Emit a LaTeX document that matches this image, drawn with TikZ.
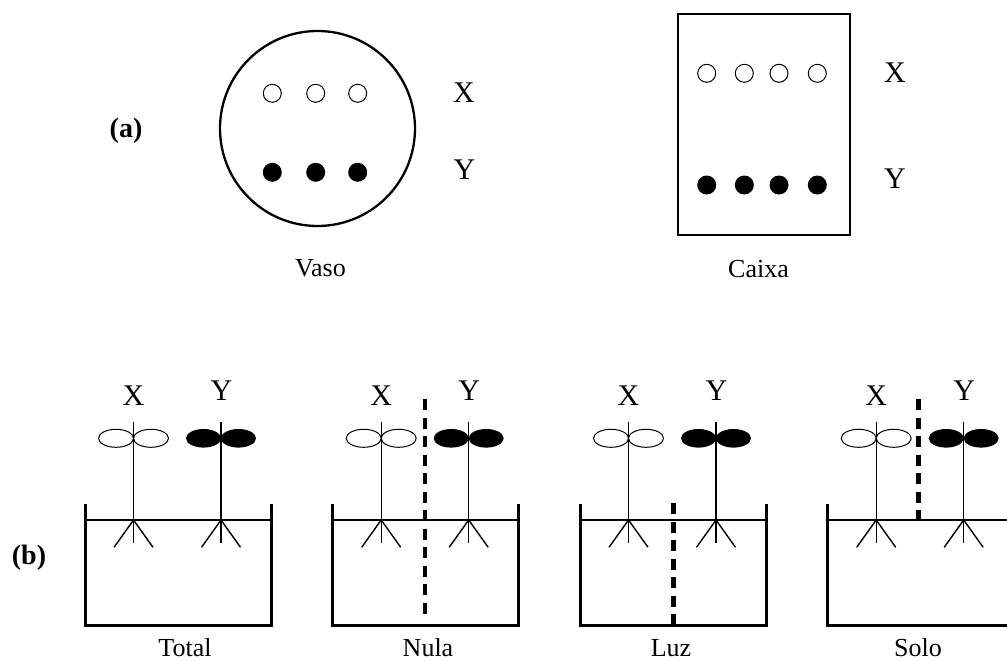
\documentclass[tikz,border=0pt]{standalone}
\usepackage{fontspec}
\setmainfont{Liberation Serif}
\usetikzlibrary{positioning}

\tikzset{
  tag lbl/.style={font=\fontsize{30}{36}\selectfont, inner sep=0pt},
  cap lbl/.style={font=\fontsize{26}{31}\selectfont, inner sep=0pt},
  part lbl/.style={font=\fontsize{28}{34}\selectfont\bfseries, inner sep=0pt},
  seed open/.style={draw, line width=1pt, fill=white},
  wall/.style={line width=3pt},
  soil/.style={line width=1.5pt},
  stalk/.style={line width=1.4pt},
  barrier/.style={line width=4.5pt, dash pattern=on 11pt off 7.5pt},
}

\begin{document}
\begin{tikzpicture}[x=1pt, y=-1pt]
\def\boxw{186}
\def\rimy{504}
\def\soily{520}
\def\floory{625.7}
\def\xs{48.5}
\def\ys{136}

\useasboundingbox (0,0) rectangle (1007,661);
\clip (0,0) rectangle (1007,661);

\node[part lbl] (pa) at (126,131) {(a)};
\node[part lbl] (pb) at (29,557.5) {(b)};

\draw[line width=2.3pt] (317.5,128.5) circle (97.5pt);
\foreach \x in {272.3,315.7,357.7} {
  \draw[seed open] (\x,93.3) circle (9pt);
  \fill (\x,172.3) circle (9.5pt);
}
\node[tag lbl] (vasox) at (464,93) {X};
\node[tag lbl] (vasoy) at (464.5,170) {Y};
\node[cap lbl] (vaso) at (320.5,268) {Vaso};

\draw[line width=2.5pt] (678,14) rectangle (850,235);
\foreach \x in {706.7,744.3,779,817.3} {
  \draw[seed open] (\x,73.3) circle (9pt);
  \fill (\x,185) circle (9.5pt);
}
\node[tag lbl] (caixax) at (895,73) {X};
\node[tag lbl] (caixay) at (895,179) {Y};
\node[cap lbl] (caixa) at (758.5,269) {Caixa};

\foreach \bx/\cx/\lbl in {85/100/Total, 332.7/95.3/Nula, 580/91/Luz, 827.7/90.3/Solo} {
  \begin{scope}[xshift=\bx]
    \draw[wall] (0,\rimy) -- (0,\floory) -- (\boxw,\floory) -- (\boxw,\rimy);
    \draw[soil] (0,\soily) -- (\boxw,\soily);
    \draw[seed open] (\xs-17.5,438.3) ellipse (17.5pt and 9pt);
    \draw[seed open] (\xs+17.5,438.3) ellipse (17.5pt and 9pt);
    \fill (\ys-17.5,438.3) ellipse (17.5pt and 9.3pt);
    \fill (\ys+17.5,438.3) ellipse (17.5pt and 9.3pt);
    \foreach \s in {\xs,\ys} {
      \draw[stalk] (\s,421.7) -- (\s,543.3);
      \draw[stalk] (\s-19.5,547.3) -- (\s,\soily) -- (\s+19.5,547.3);
    }
    \node[tag lbl] (px) at (\xs,396) {X};
    \node[tag lbl] (py) at (\ys+0.5,391) {Y};
    \node[cap lbl] (pl) at (\cx,648) {\lbl};
  \end{scope}
}

\draw[barrier] (425,399) -- (425,616);
\draw[barrier] (673.3,503.3) -- (673.3,625);
\draw[barrier] (918.3,399) -- (918.3,520);
\end{tikzpicture}
\end{document}
